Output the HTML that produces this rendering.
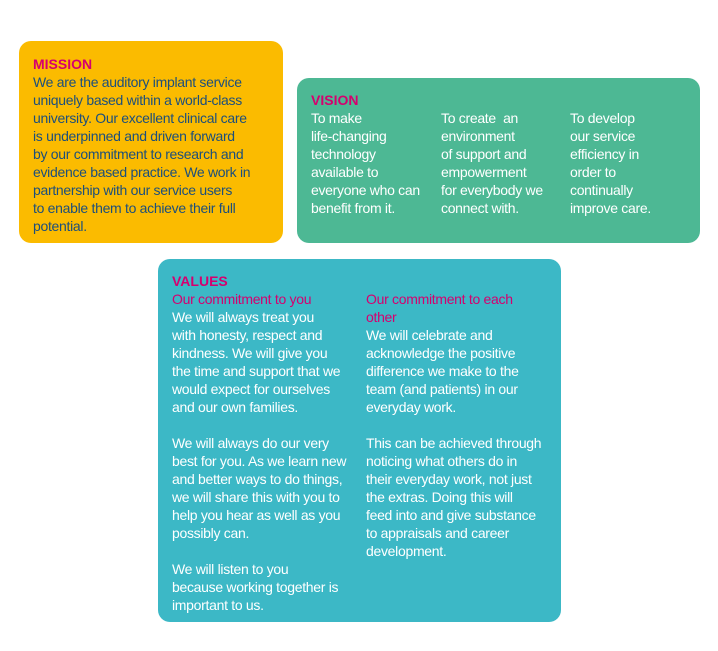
<!DOCTYPE html>
<html><head><meta charset="utf-8"><style>
body{margin:0;width:718px;height:651px;background:#fff;position:relative;overflow:hidden;font-family:"Liberation Sans",sans-serif;}
.box{position:absolute;border-radius:12px;}
.t{position:absolute;font-size:14px;line-height:18px;letter-spacing:-0.3px;white-space:nowrap;}
.h{color:#d5006f;font-weight:bold;letter-spacing:0;}
.p{color:#d5006f;}
</style></head><body>
<div class="box" style="left:19px;top:41px;width:264px;height:202px;background:#fbbb00;"></div>
<div class="box" style="left:297px;top:78px;width:403px;height:165px;background:#4db894;"></div>
<div class="box" style="left:158px;top:259px;width:403px;height:363px;background:#3cb8c6;"></div>

<div class="t" style="left:33px;top:55px;color:#1c4f7c;"><span class="h">MISSION</span><br>We are the auditory implant service<br>uniquely based within a world-class<br>university. Our excellent clinical care<br>is underpinned and driven forward<br>by our commitment to research and<br>evidence based practice. We work in<br>partnership with our service users<br>to enable them to achieve their full<br>potential.</div>

<div class="t" style="left:311px;top:91px;color:#fff;"><span class="h">VISION</span><br>To make<br>life-changing<br>technology<br>available to<br>everyone who can<br>benefit from it.</div>
<div class="t" style="left:441px;top:109px;color:#fff;">To create &nbsp;an<br>environment<br>of support and<br>empowerment<br>for everybody we<br>connect with.</div>
<div class="t" style="left:570px;top:109px;color:#fff;">To develop<br>our service<br>efficiency in<br>order to<br>continually<br>improve care.</div>

<div class="t" style="left:172px;top:272px;color:#fff;"><span class="h">VALUES</span><br><span class="p">Our commitment to you</span><br>We will always treat you<br>with honesty, respect and<br>kindness. We will give you<br>the time and support that we<br>would expect for ourselves<br>and our own families.<br><br>We will always do our very<br>best for you. As we learn new<br>and better ways to do things,<br>we will share this with you to<br>help you hear as well as you<br>possibly can.<br><br>We will listen to you<br>because working together is<br>important to us.</div>
<div class="t" style="left:366px;top:290px;color:#fff;"><span class="p">Our commitment to each<br>other</span><br>We will celebrate and<br>acknowledge the positive<br>difference we make to the<br>team (and patients) in our<br>everyday work.<br><br>This can be achieved through<br>noticing what others do in<br>their everyday work, not just<br>the extras. Doing this will<br>feed into and give substance<br>to appraisals and career<br>development.</div>
</body></html>
